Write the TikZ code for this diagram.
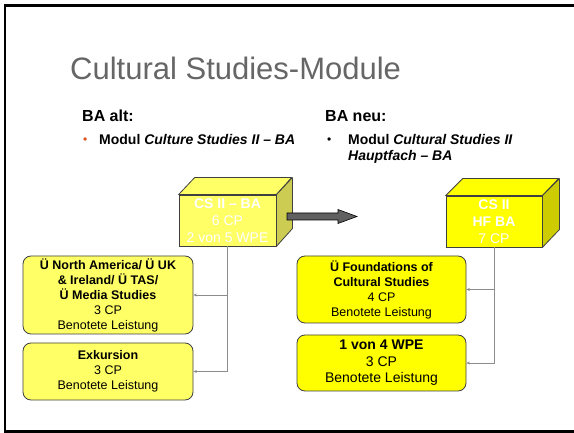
\documentclass[tikz,border=0pt]{standalone}
\usepackage{fontspec}
\setmainfont{Liberation Sans}
\usetikzlibrary{arrows.meta}
\definecolor{titlegray}{RGB}{102,102,102}
\definecolor{paleyel}{RGB}{255,255,102}
\definecolor{paleside}{RGB}{204,204,82}
\definecolor{fullyel}{RGB}{255,255,0}
\definecolor{fullside}{RGB}{204,204,0}
\definecolor{connc}{RGB}{140,140,140}
\definecolor{bulletc}{RGB}{224,80,32}
\definecolor{arrowgray}{RGB}{96,96,96}
\definecolor{outl}{RGB}{64,64,64}
\begin{document}
\begin{tikzpicture}[x=1pt,y=-1pt,
  lbl/.style={anchor=base west, inner sep=0pt},
  cubefront/.style={draw=outl, line width=0.8pt, inner sep=0pt, align=center,
    text=white, font=\fontsize{14}{17}\selectfont},
  cubeface/.style={draw=outl, line width=0.8pt, line join=round},
  modbox/.style={draw=outl, line width=0.8pt, rounded corners=8pt, inner sep=0pt,
    align=center, font=\fontsize{12.5}{15}\selectfont},
  conn/.style={draw=connc, line width=0.8pt, -{Stealth[length=3.5pt,width=3pt]}}]
\useasboundingbox (0,0) rectangle (574,433);
\fill[white] (0,0) rectangle (574,433);
% slide frame
\draw[line width=2.7pt] (574,5.3) -- (5,5.3) -- (5,431.5) -- (574,431.5);
% title and headings
\node[lbl, text=titlegray, font=\fontsize{31}{36}\selectfont] (title) at (70,80) {Cultural Studies-Module};
\node[lbl, font=\fontsize{16}{19}\selectfont\bfseries] (altH) at (82,122) {BA alt:};
\node[lbl, font=\fontsize{16}{19}\selectfont\bfseries] (neuH) at (325,122) {BA neu:};
\node[lbl, text=bulletc, font=\fontsize{12}{14}\selectfont] (bulL) at (83,144) {•};
\node[lbl, font=\fontsize{14}{16}\selectfont\bfseries] (altT) at (99,145) {Modul \textit{Culture Studies II – BA}};
\node[lbl, font=\fontsize{12}{14}\selectfont] (bulR) at (327,144) {•};
\node[lbl, font=\fontsize{14}{16}\selectfont\bfseries] (neuT1) at (348,145) {Modul \textit{Cultural Studies II}};
\node[lbl, font=\fontsize{14}{16}\selectfont\bfseries\itshape] (neuT2) at (348,161) {Hauptfach – BA};
% left cube
\node[cubefront, fill=paleyel, minimum width=97pt, minimum height=51pt] (cubeL) at (227.5,220.5)
  {\textbf{CS II – BA}\\6 CP\\2 von 5 WPE};
\draw[cubeface, fill=paleyel] (cubeL.north west) -- ++(16,-17) -- ++(97,0) -- (cubeL.north east) -- cycle;
\draw[cubeface, fill=paleside] (cubeL.north east) -- ++(16,-17) -- ++(0,51) -- (cubeL.south east) -- cycle;
% right cube
\node[cubefront, fill=fullyel, minimum width=96pt, minimum height=51pt] (cubeR) at (494,221.5)
  {\textbf{CS II}\\\textbf{HF BA}\\7 CP};
\draw[cubeface, fill=fullyel] (cubeR.north west) -- ++(17,-17) -- ++(96,0) -- (cubeR.north east) -- cycle;
\draw[cubeface, fill=fullside] (cubeR.north east) -- ++(17,-17) -- ++(0,51) -- (cubeR.south east) -- cycle;
% block arrow
\draw[fill=arrowgray, draw=black, line width=0.6pt, line join=miter]
  (287,213) -- (338,213) -- (338,209.5) -- (357,216.5) -- (338,223.5) -- (338,220) -- (287,220) -- cycle;
% module boxes
\node[modbox, fill=paleyel, minimum width=170pt, minimum height=78pt] (b1) at (108,295)
  {\textbf{Ü North America/ Ü UK}\\\textbf{\& Ireland/ Ü TAS/}\\\textbf{Ü Media Studies}\\3 CP\\Benotete Leistung};
\node[modbox, fill=paleyel, minimum width=170pt, minimum height=57pt] (b2) at (108,371.5)
  {\textbf{Exkursion}\\3 CP\\Benotete Leistung};
\node[modbox, fill=fullyel, minimum width=169pt, minimum height=67pt] (b3) at (381.5,289.5)
  {\textbf{Ü Foundations of}\\\textbf{Cultural Studies}\\4 CP\\Benotete Leistung};
\node[modbox, fill=fullyel, minimum width=169pt, minimum height=56pt,
  font=\fontsize{14}{16.5}\selectfont] (b4) at (381.5,363)
  {\textbf{1 von 4 WPE}\\3 CP\\Benotete Leistung};
% connectors
\draw[conn] (cubeL.south) |- (b1.east);
\draw[conn] (cubeL.south) |- (b2.east);
\draw[conn] (cubeR.south) |- (b3.east);
\draw[conn] (cubeR.south) |- (b4.east);
\end{tikzpicture}
\end{document}
